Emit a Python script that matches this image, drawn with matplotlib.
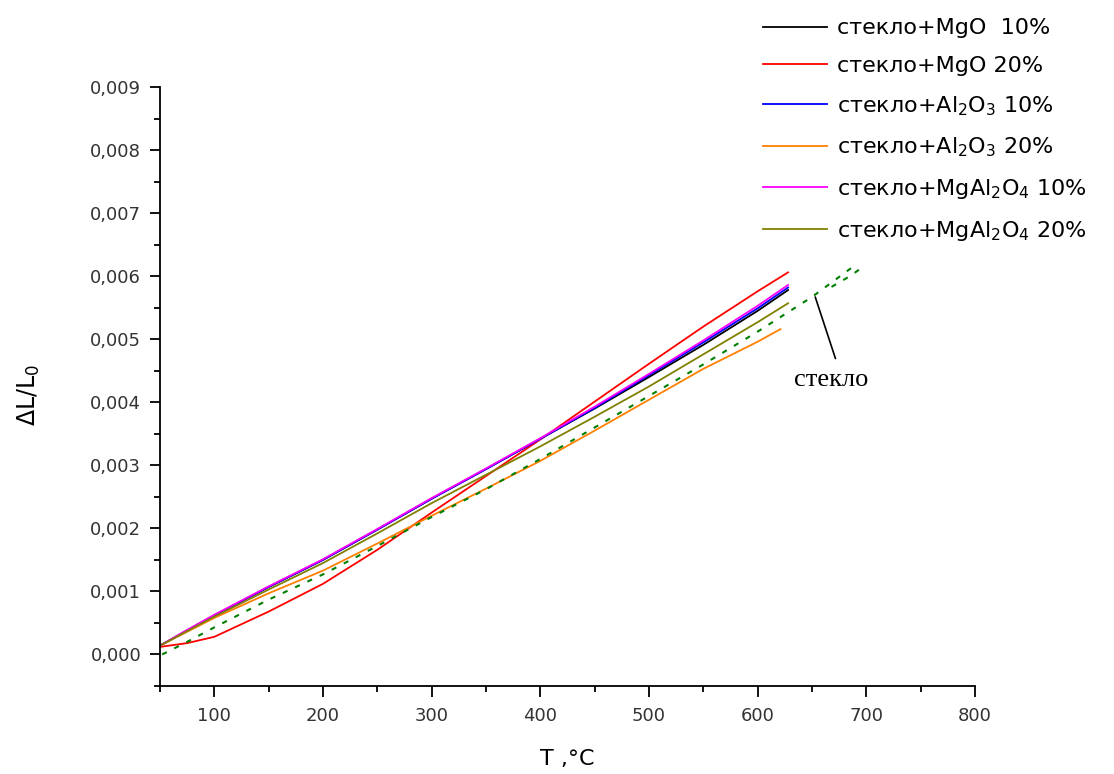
import matplotlib.pyplot as plt
from matplotlib.ticker import MultipleLocator, FuncFormatter

# temperature, deg C
T = [50, 75, 100, 150, 200, 250, 300, 350, 400, 450, 500, 550, 600, 628]
T_al20 = [50, 75, 100, 150, 200, 250, 300, 350, 400, 450, 500, 550, 600, 621]
T_glass = [52, 75, 100, 150, 200, 250, 300, 350, 400, 450, 500, 550, 600, 650, 687]
T_glass2 = [668, 685, 698]

mgo10 = [0.00014, 0.00038, 0.00062, 0.00107, 0.00150, 0.00198, 0.00247, 0.00294,
         0.00342, 0.00390, 0.00440, 0.00491, 0.00545, 0.00578]
mgo20 = [0.00012, 0.00018, 0.00028, 0.00068, 0.00112, 0.00166, 0.00225, 0.00283,
         0.00341, 0.00401, 0.00461, 0.00520, 0.00576, 0.00606]
al10 = [0.00014, 0.00038, 0.00062, 0.00107, 0.00150, 0.00198, 0.00247, 0.00294,
        0.00342, 0.00391, 0.00443, 0.00495, 0.00549, 0.00582]
al20 = [0.00014, 0.00036, 0.00058, 0.00097, 0.00133, 0.00176, 0.00220, 0.00263,
        0.00307, 0.00355, 0.00404, 0.00453, 0.00496, 0.00516]
mgal10 = [0.00014, 0.00039, 0.00063, 0.00108, 0.00151, 0.00199, 0.00248, 0.00295,
          0.00343, 0.00393, 0.00445, 0.00498, 0.00553, 0.00586]
mgal20 = [0.00014, 0.00037, 0.00060, 0.00103, 0.00145, 0.00192, 0.00240, 0.00285,
          0.00330, 0.00377, 0.00425, 0.00476, 0.00527, 0.00557]
glass = [0.00000, 0.00020, 0.00043, 0.00087, 0.00127, 0.00172, 0.00218, 0.00262,
         0.00310, 0.00360, 0.00410, 0.00460, 0.00512, 0.00567, 0.00614]
glass2 = [0.00583, 0.00600, 0.00616]

labels = ["стекло+MgO  10%", "стекло+MgO 20%", "стекло+Al$_2$O$_3$ 10%",
          "стекло+Al$_2$O$_3$ 20%", "стекло+MgAl$_2$O$_4$ 10%", "стекло+MgAl$_2$O$_4$ 20%"]
colors = ["#000000", "#ff0000", "#0000ff", "#ff8000", "#ff00ff", "#808000"]

fig = plt.figure(figsize=(11.14, 7.74), dpi=100)
ax = fig.add_axes([0.1436, 0.1137, 0.7316, 0.7739])

series = [(T, mgo10), (T, mgo20), (T, al10), (T_al20, al20), (T, mgal10), (T, mgal20)]
handles = []
for (x, y), c, lab in zip(series, colors, labels):
    h, = ax.plot(x, y, color=c, lw=1.3, label=lab)
    handles.append(h)

ax.plot(T_glass, glass, color="#008000", lw=1.5, dashes=(2.5, 4))
ax.plot(T_glass2, glass2, color="#008000", lw=1.5, dashes=(2.5, 4))

# pointer to the glass curve
ax.annotate("стекло", xy=(653, 0.00567), xytext=(668, 0.00435),
            ha="center", va="center", fontsize=19, family="Liberation Serif",
            arrowprops=dict(arrowstyle="-", color="black", lw=1.2,
                            relpos=(0.6, 1.0), shrinkA=6, shrinkB=0))

ax.set_xlim(50, 800)
ax.set_ylim(-0.0005, 0.009)
ax.spines["top"].set_visible(False)
ax.spines["right"].set_visible(False)
ax.spines["left"].set_linewidth(1.3)
ax.spines["bottom"].set_linewidth(1.3)

ax.xaxis.set_major_locator(MultipleLocator(100))
ax.xaxis.set_minor_locator(MultipleLocator(50))
ax.yaxis.set_major_locator(MultipleLocator(0.001))
ax.yaxis.set_minor_locator(MultipleLocator(0.0005))
ax.set_xticks([100, 200, 300, 400, 500, 600, 700, 800])
ax.yaxis.set_major_formatter(FuncFormatter(lambda v, p: ("%.3f" % v).replace(".", ",")))
ax.tick_params(which="major", direction="out", length=8, width=1.3, labelsize=13, pad=7)
ax.tick_params(which="minor", direction="out", length=4, width=1.3)
ax.tick_params(axis="y", which="major", length=7.5, pad=6)
for lab in ax.get_xticklabels() + ax.get_yticklabels():
    lab.set_color("#333333")

ax.set_xlabel("T ,°C", fontsize=16)
ax.xaxis.set_label_coords(0.5, -0.105)
ax.set_ylabel("ΔL/L$_0$", fontsize=17)
ax.yaxis.set_label_coords(-0.145, 0.486)

fig.legend(handles=handles, loc="upper left", bbox_to_anchor=(0.667, 1.002),
           frameon=False, fontsize=16, handlelength=2.9, handletextpad=0.45,
           labelspacing=0.8)

fig.savefig("out.png", dpi=100)
